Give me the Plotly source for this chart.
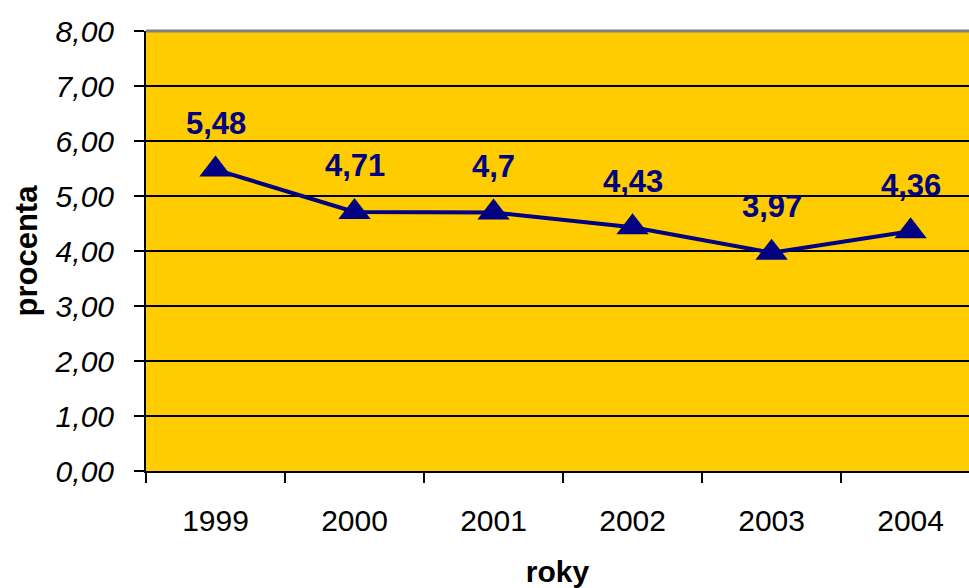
import plotly.graph_objects as go

years = ["1999", "2000", "2001", "2002", "2003", "2004"]
values = [5.48, 4.71, 4.70, 4.43, 3.97, 4.36]
labels = ["5,48", "4,71", "4,7", "4,43", "3,97", "4,36"]

NAVY = "#000080"
GOLD = "#FFCC00"
FONT = "Liberation Sans, Arial, sans-serif"

fig = go.Figure()
fig.add_trace(go.Scatter(
    x=years, y=values, mode="lines+markers",
    line=dict(color=NAVY, width=4),
    marker=dict(symbol="triangle-up", size=28, color=NAVY),
    hoverinfo="skip", showlegend=False,
))
for i, (v, t) in enumerate(zip(values, labels)):
    fig.add_annotation(x=i, y=v, xref="x", yref="y", text=t, showarrow=False, yshift=46,
                       font=dict(family=FONT, size=31, color=NAVY, weight="bold"))

fig.add_shape(type="line", xref="paper", yref="paper", x0=0, x1=1, y0=1, y1=1,
              line=dict(color="#808080", width=3))

fig.add_annotation(text="procenta", xref="paper", yref="paper", x=-146/823, y=0.5,
                   xanchor="left", yanchor="middle", xshift=6, textangle=-90,
                   showarrow=False, font=dict(family=FONT, size=31, color="black", weight="bold"))

fig.update_layout(
    width=969, height=588,
    margin=dict(l=146, r=0, t=31, b=117),
    paper_bgcolor="white", plot_bgcolor=GOLD,
    separators=", ",
    font=dict(family=FONT, color="black"),
)
fig.update_xaxes(
    type="category", range=[-0.5, 5.42], tickson="boundaries",
    ticks="outside", ticklen=10, tickwidth=2, tickcolor="black",
    showline=True, linecolor="black", linewidth=2, showgrid=False,
    tickfont=dict(family=FONT, size=30, color="black"),
    ticklabelstandoff=22,
    title=dict(text="roky", font=dict(family=FONT, size=30, weight="bold"), standoff=28),
)
fig.update_yaxes(
    range=[0, 8], dtick=1, tickformat=".2f",
    ticks="outside", ticklen=10, tickwidth=2, tickcolor="black",
    showline=True, linecolor="black", linewidth=2,
    showgrid=True, gridcolor="black", gridwidth=2, zeroline=False,
    tickfont=dict(family=FONT, size=30, color="black", style="italic"),
    ticklabelstandoff=14,
)
fig.write_html("out.html", config={"displayModeBar": False},
               post_script="document.body.style.margin='0';document.body.style.overflow='hidden';")
